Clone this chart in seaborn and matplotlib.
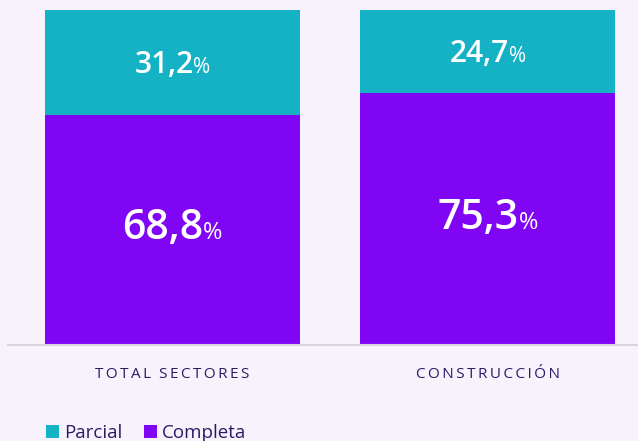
import matplotlib
matplotlib.use("Agg")
import matplotlib.pyplot as plt
import seaborn as sns
import pandas as pd
from matplotlib.patches import Patch

categories = ["TOTAL SECTORES", "CONSTRUCCIÓN"]
completa = [68.8, 75.3]
parcial = [31.2, 24.7]
completa_labels = ["68,8", "75,3"]
parcial_labels = ["31,2", "24,7"]
series_names = ["Parcial", "Completa"]

BG = "#f8f2fd"
TEAL = "#15b2c6"
PURPLE = "#8105f5"
TXT = "#2b1a64"

sns.set_theme(style="white")
plt.rcParams['font.family'] = ['Open Sans', 'DejaVu Sans']

DPI = 100
fig = plt.figure(figsize=(6.38, 4.41), dpi=DPI, facecolor=BG)
ax = fig.add_axes([8/638, (441-345)/441, 630/638, 335/441])
ax.set_facecolor(BG)

df = pd.DataFrame({"cat": categories, "completa": completa,
                   "total": [a + b for a, b in zip(completa, parcial)]})

W = 255/315
sns.barplot(data=df, x="cat", y="total", color=TEAL, width=W, ax=ax,
            saturation=1, linewidth=0)
sns.barplot(data=df, x="cat", y="completa", color=PURPLE, width=W, ax=ax,
            saturation=1, linewidth=0)

ax.set_xlim(-164.5/315, 1 + 150.5/315)
ax.set_ylim(0, 100)
ax.set_xlabel("")
ax.set_ylabel("")
ax.set_yticks([])
for s in ["top", "left", "right"]:
    ax.spines[s].set_visible(False)
ax.spines["bottom"].set_color("#d9d4de")
ax.spines["bottom"].set_linewidth(1.5)

def spaced(s):
    return "\u2009".join(list(s)).replace("\u2009 \u2009", "  ")

ax.set_xticks(range(len(categories)))
ax.set_xticklabels([spaced(c) for c in categories], color=TXT, fontsize=11)
ax.tick_params(axis="x", length=0, pad=16)

labels = []
for i in range(len(categories)):
    labels.append((i, completa[i] / 2, completa_labels[i], 29.5, 17, -7.0))
    labels.append((i, completa[i] + parcial[i] / 2, parcial_labels[i], 21.5, 15, -7.8))

pairs = []
for (i, y, num, fs1, fs2, dy) in labels:
    t1 = ax.annotate(num, xy=(i, y), xytext=(0, dy), textcoords="offset points",
                     ha="right", va="baseline", color="white", fontsize=fs1,
                     fontweight="semibold")
    t2 = ax.annotate("%", xy=(i, y), xytext=(0, dy), textcoords="offset points",
                     ha="left", va="baseline", color="white", fontsize=fs2,
                     fontweight="normal")
    pairs.append((t1, t2, dy))

fig.canvas.draw()
r = fig.canvas.get_renderer()
for t1, t2, dy in pairs:
    w1 = t1.get_window_extent(r).width
    w2 = t2.get_window_extent(r).width
    off = (w1 - (w1 + w2) / 2) * 72 / DPI
    t1.set_position((off, dy))
    t2.set_position((off, dy))

handles = [Patch(facecolor=TEAL, edgecolor="none"), Patch(facecolor=PURPLE, edgecolor="none")]
fig.legend(handles, series_names, loc="lower left", bbox_to_anchor=(29/638, -18/441),
           ncol=2, frameon=False, fontsize=13.5, handlelength=0.7, handleheight=0.7,
           handletextpad=0.3, columnspacing=1.1, labelcolor=TXT)

fig.savefig("out.png", dpi=DPI, facecolor=BG)
